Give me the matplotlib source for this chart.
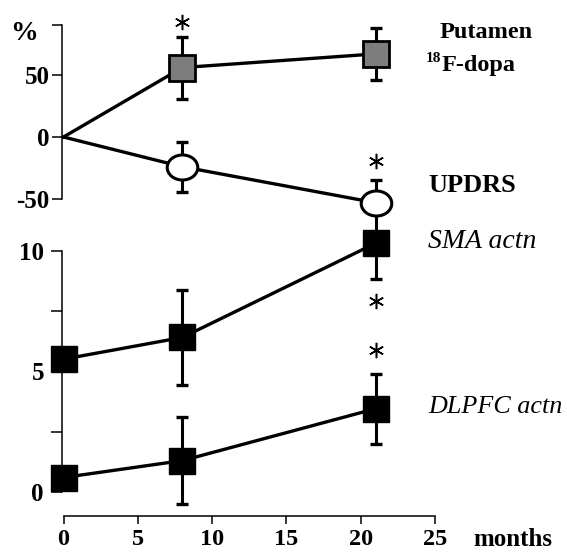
import matplotlib
matplotlib.use("Agg")
import matplotlib.pyplot as plt
from matplotlib.path import Path
from matplotlib.transforms import Affine2D

# ---- data ----
months = [0, 8, 21]
putamen = [0, 56, 67]
putamen_err = [0, 25, 21]
updrs = [0, -24, -53]
updrs_err_lo = [0, 20, 0]
updrs_err_hi = [0, 20, 18]
sma = [5.5, 6.4, 10.3]
sma_err = [0, 1.95, 1.5]
dlpfc = [0.6, 1.3, 3.45]
dlpfc_err = [0, 1.8, 1.45]
sig_top_x = [8, 21]
sig_top_y = [93, -19]
sig_bot_x = [21, 21]
sig_bot_y = [7.9, 5.9]
xticks = [0, 5, 10, 15, 20, 25]
top_yticks = [-50, 0, 50, 90]
top_yticklabels = ["-50", "0", "50", ""]
bot_yticks = [0, 5, 10]

W, H = 567, 552
fig = plt.figure(figsize=(W / 100, H / 100), dpi=100)
SERIF = "Liberation Serif"

def fx(px):
    return px / W

def fy(py):
    return 1 - py / H

# x scale: 0 -> 63.5 px, 25 -> 435 px
ppu = (435 - 63.5) / 25
xl0, xl1 = -1, 26
ax_left = 63.5 + xl0 * ppu
ax_w = (xl1 - xl0) * ppu

# top axes ylim(-60, 95): 0 at 137 px, 1.24 px/unit
t_lo, t_hi = -60, 95
t_bot_px = 137 - t_lo * 1.24
t_top_px = 137 - t_hi * 1.24
ax_t = fig.add_axes([fx(ax_left), fy(t_bot_px), fx(ax_w), (t_bot_px - t_top_px) / H])
# bottom axes ylim(-1, 11): 0 at 492 px, 24.15 px/unit
b_lo, b_hi = -1, 11
b_bot_px = 492 - b_lo * 24.15
b_top_px = 492 - b_hi * 24.15
ax_b = fig.add_axes([fx(ax_left), fy(b_bot_px), fx(ax_w), (b_bot_px - b_top_px) / H])

ax_t.set_zorder(2)
ax_b.set_zorder(1)
for ax in (ax_t, ax_b):
    ax.patch.set_visible(False)
    ax.set_xlim(xl0, xl1)
    for s in ("top", "right"):
        ax.spines[s].set_visible(False)
    ax.spines["left"].set_linewidth(1.1)
    ax.spines["bottom"].set_linewidth(1.1)
    ax.spines["left"].set_position(("data", -0.1))

ax_t.set_ylim(t_lo, t_hi)
ax_b.set_ylim(b_lo, b_hi)

# ellipse marker for UPDRS
circ = Path.unit_circle()
ell = Affine2D().scale(1.22, 1.0).transform_path(circ)

lw = 2.4
ekw = dict(fmt="none", ecolor="black", elinewidth=2.2, capsize=4.5, capthick=2.4)

def eb(ax, x, y, yerr):
    c = ax.errorbar(x, y, yerr=yerr, zorder=2, **ekw)
    for art in c.get_children():
        art.set_clip_on(False)

# top panel
ax_t.plot(months, putamen, color="black", lw=lw, zorder=1, clip_on=False)
ax_t.plot(months, updrs, color="black", lw=lw, zorder=1, clip_on=False)
eb(ax_t, months[1:], putamen[1:], putamen_err[1:])
eb(ax_t, months[1:], updrs[1:], [updrs_err_lo[1:], updrs_err_hi[1:]])
ax_t.plot(months[1:], putamen[1:], ls="none", marker="s", ms=18.5, mfc="#7d7d7d",
          mec="black", mew=2.0, zorder=3, clip_on=False)
ax_t.plot(months[1:], updrs[1:], ls="none", marker=ell, ms=22, mfc="white",
          mec="black", mew=2.2, zorder=3, clip_on=False)
ax_t.plot(sig_top_x, sig_top_y, ls="none", marker=(6, 2, 0), ms=11, mew=1.1,
          color="black", clip_on=False)

ax_t.spines["bottom"].set_visible(False)
ax_t.spines["left"].set_bounds(-50, 90)
ax_t.set_xticks([])
ax_t.set_yticks(top_yticks)
ax_t.set_yticklabels(top_yticklabels)
ax_t.tick_params(axis="y", direction="out", length=7, width=1.1, pad=2)

# bottom panel
ax_b.plot(months, sma, color="black", lw=lw, zorder=1, clip_on=False)
ax_b.plot(months, dlpfc, color="black", lw=lw, zorder=1, clip_on=False)
eb(ax_b, months, sma, sma_err)
eb(ax_b, months, dlpfc, dlpfc_err)
ax_b.plot(months, sma, ls="none", marker="s", ms=18.5, color="black", zorder=3, clip_on=False)
ax_b.plot(months, dlpfc, ls="none", marker="s", ms=18.5, color="black", zorder=3, clip_on=False)
ax_b.plot(sig_bot_x, sig_bot_y, ls="none", marker=(6, 2, 0), ms=11, mew=1.1,
          color="black", clip_on=False)

ax_b.spines["left"].set_bounds(0, 10)
ax_b.spines["bottom"].set_bounds(0, 25)
ax_b.set_yticks(bot_yticks)
ax_b.set_yticks([2.5, 7.5], minor=True)
ax_b.set_xticks(xticks)
ax_b.tick_params(axis="y", which="both", direction="out", length=8, width=1.1, pad=5)
ax_b.tick_params(axis="x", direction="out", length=6, width=1.1, pad=3.5)

for ax in (ax_t, ax_b):
    for lab in ax.get_yticklabels():
        lab.set_fontfamily(SERIF)
        lab.set_fontweight("bold")
        lab.set_fontsize(18)
for lab in ax_b.get_xticklabels():
    lab.set_fontfamily(SERIF)
    lab.set_fontweight("bold")
    lab.set_fontsize(17.5)

# labels
fig.text(fx(10), fy(34), "%", fontfamily=SERIF, fontweight="bold", fontsize=20, va="center", ha="left")
fig.text(fx(440), fy(33), "Putamen", fontfamily=SERIF, fontweight="bold", fontsize=17.5, va="center", ha="left")
fig.text(fx(426), fy(59), "18", fontfamily=SERIF, fontweight="bold", fontsize=11, va="center", ha="left")
fig.text(fx(442), fy(66), "F-dopa", fontfamily=SERIF, fontweight="bold", fontsize=17.5, va="center", ha="left")
fig.text(fx(428), fy(185), "UPDRS", fontfamily=SERIF, fontweight="bold", fontsize=19, va="center", ha="left")
fig.text(fx(428), fy(241), "SMA actn", fontfamily=SERIF, fontstyle="italic", fontsize=20, va="center", ha="left")
fig.text(fx(428), fy(407), "DLPFC actn", fontfamily=SERIF, fontstyle="italic", fontsize=18.8, va="center", ha="left")
fig.text(fx(473), fy(540), "months", fontfamily=SERIF, fontweight="bold", fontsize=18, va="center", ha="left")

fig.savefig("out.png", dpi=100, facecolor="white")
